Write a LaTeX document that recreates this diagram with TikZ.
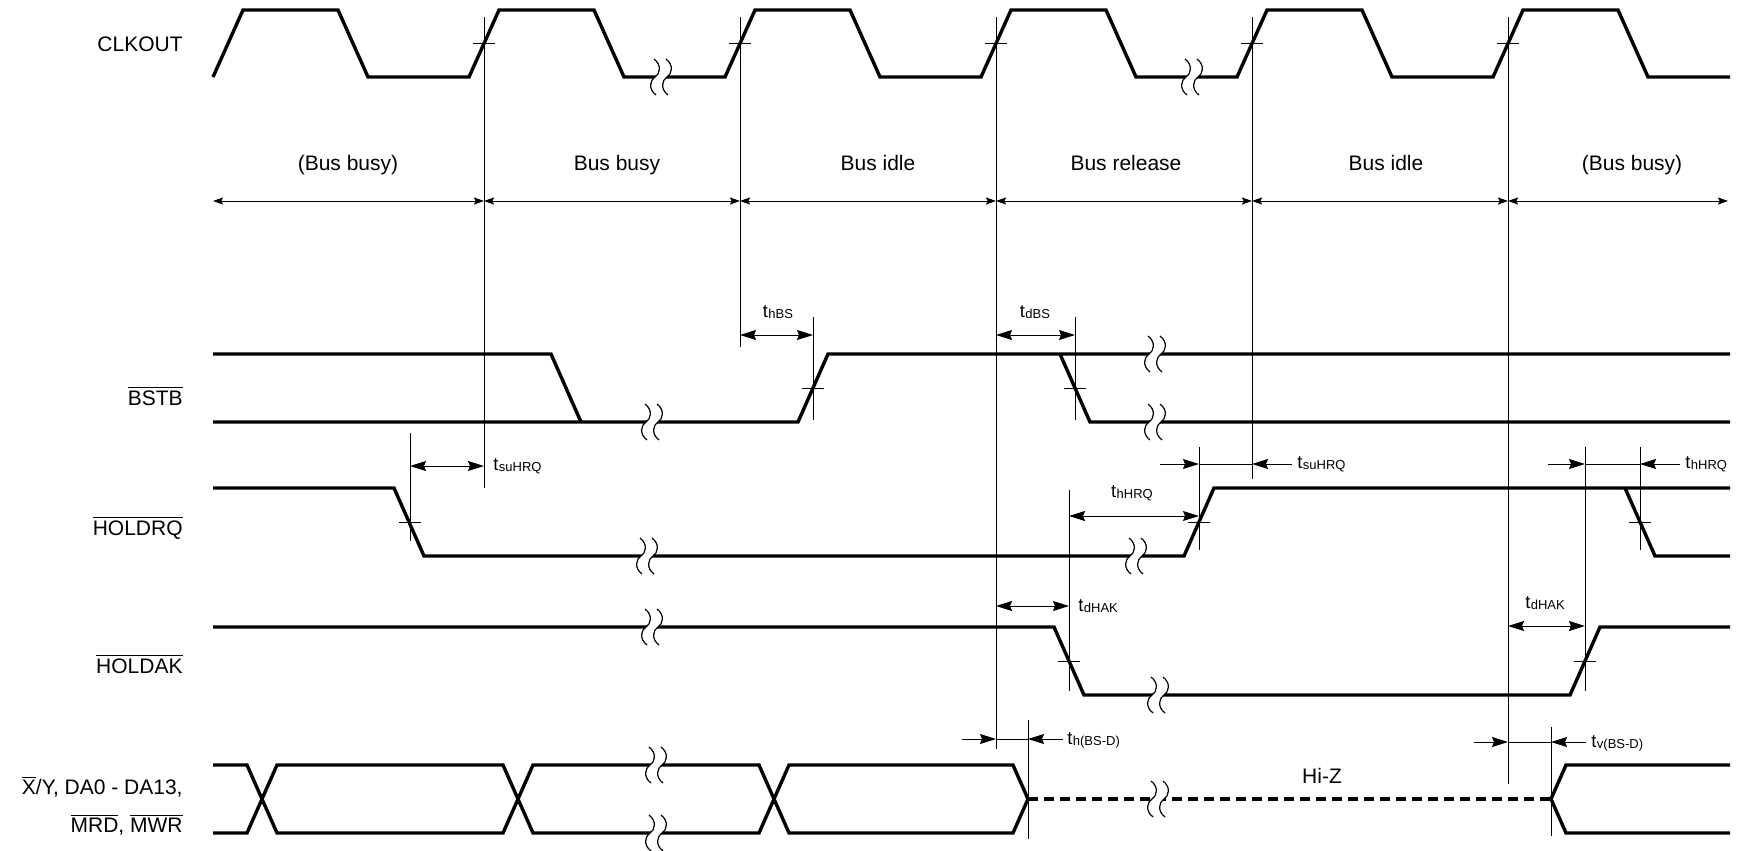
\documentclass[tikz,border=0pt]{standalone}
\usepackage{fontspec}
\setmainfont{Liberation Sans}
\usetikzlibrary{arrows.meta}
\newcommand\tsub[1]{t\kern0.2pt\raisebox{-0.6pt}{\fontsize{6.5}{6.5}\selectfont #1}}
\newcommand\ovl[1]{\ensuremath{\overline{\mbox{#1}}}}
\begin{document}
\begin{tikzpicture}[x=0.5pt,y=-0.5pt,
  sig/.style={line width=1.7pt,line join=miter},
  hz/.style={line width=1.7pt,dash pattern=on 5pt off 3pt},
  refl/.style={line width=0.5pt},
  tickln/.style={line width=0.5pt},
  dim/.style={line width=0.5pt,{Stealth[length=8pt,width=5pt,inset=1pt]}-{Stealth[length=8pt,width=5pt,inset=1pt]}},
  dimin/.style={line width=0.5pt,-{Stealth[length=8pt,width=5pt,inset=1pt]}},
  reg/.style={line width=0.5pt,{Stealth[length=5pt,width=3.5pt,inset=0.8pt]}-{Stealth[length=5pt,width=3.5pt,inset=0.8pt]}},
  lbl/.style={font=\fontsize{10.5}{12}\selectfont,inner sep=0pt},
  tl/.style={font=\fontsize{9.2}{10}\selectfont,inner sep=0pt},
  brk/.pic={
    \fill[white] (-7,-18) .. controls (1,-12) and (-1,-3) .. (-6,0) .. controls (-11,3) and (-13,12) .. (-5,18)
      -- (7,18) .. controls (-1,12) and (1,3) .. (6,0) .. controls (11,-3) and (13,-12) .. (5,-18) -- cycle;
    \foreach \d in {-6,6}
      \draw[line width=0.6pt] (\d-1,-18) .. controls (\d+7,-12) and (\d+5,-3) .. (\d,0)
        .. controls (\d-5,3) and (\d-7,12) .. (\d+1,18);
  }]
\useasboundingbox (0,0) rectangle (1746,851);

% ---- signal names
\node[lbl,anchor=east] (nclk) at (183,44) {CLKOUT};
\node[lbl,anchor=east] (nbstb) at (183,396) {\ovl{BSTB}};
\node[lbl,anchor=east] (nhrq) at (183,528) {\ovl{HOLDRQ}};
\node[lbl,anchor=east] (nhak) at (183,664) {\ovl{HOLDAK}};
\node[lbl,anchor=east] (nd1) at (183,787) {\ovl{X}/Y, DA0 - DA13,};
\node[lbl,anchor=east] (nd2) at (183,825) {\ovl{MRD}, \ovl{MWR}};

% ---- CLKOUT
\draw[sig] (213,77) -- (243,10) -- (338,10) -- (368,77) -- (469,77) -- (499,10) -- (594,10) -- (624,77)
  -- (725,77) -- (755,10) -- (850,10) -- (880,77) -- (981,77) -- (1011,10) -- (1106,10) -- (1136,77)
  -- (1237,77) -- (1267,10) -- (1362,10) -- (1392,77) -- (1493,77) -- (1523,10) -- (1618,10) -- (1648,77) -- (1730,77);

% ---- BSTB
\draw[sig] (213,354) -- (551,354) -- (581,422);
\draw[sig] (213,422) -- (798,422) -- (828,354) -- (1730,354);
\draw[sig] (1060,354) -- (1090,422) -- (1730,422);

% ---- HOLDRQ
\draw[sig] (213,488) -- (394,488) -- (424,556) -- (1184,556) -- (1214,488) -- (1730,488);
\draw[sig] (1625,488) -- (1655,556) -- (1730,556);

% ---- HOLDAK
\draw[sig] (213,627) -- (1054,627) -- (1084,695) -- (1570,695) -- (1600,627) -- (1730,627);

% ---- Data bus
\draw[sig] (213,765) -- (247,765) -- (277,833) -- (503,833) -- (533,765) -- (759,765) -- (789,833) -- (1013,833) -- (1028,799);
\draw[sig] (213,833) -- (247,833) -- (277,765) -- (503,765) -- (533,833) -- (759,833) -- (789,765) -- (1013,765) -- (1028,799);
\draw[hz] (1028,799) -- (1551,799);
\draw[sig] (1551,799) -- (1566,765) -- (1730,765);
\draw[sig] (1551,799) -- (1566,833) -- (1730,833);
\node[lbl] (hiz) at (1322,776) {Hi-Z};

% ---- breaks
\pic at (661,77) {brk};
\pic at (1192,77) {brk};
\pic at (652,422) {brk};
\pic at (1155,354) {brk};
\pic at (1155,422) {brk};
\pic at (647,556) {brk};
\pic at (1136,556) {brk};
\pic at (652,627) {brk};
\pic at (1158,695) {brk};
\pic at (656,765) {brk};
\pic at (656,833) {brk};
\pic at (1158,799) {brk};

% ---- clock reference lines and ticks
\draw[refl] (484,17) -- (484,488);
\draw[refl] (740,17) -- (740,347);
\draw[refl] (996,17) -- (996,749);
\draw[refl] (1252,17) -- (1252,479);
\draw[refl] (1508,17) -- (1508,784);
\foreach \c in {484,740,996,1252,1508} \draw[tickln] (\c-11,43.5) -- (\c+11,43.5);

% ---- other reference lines and ticks
\draw[refl] (813,317) -- (813,420);  \draw[tickln] (802,388) -- (824,388);
\draw[refl] (1075,317) -- (1075,420); \draw[tickln] (1064,388) -- (1086,388);
\draw[refl] (410,433) -- (410,541);  \draw[tickln] (399,522) -- (421,522);
\draw[refl] (1199,447) -- (1199,550); \draw[tickln] (1188,522) -- (1210,522);
\draw[refl] (1640,447) -- (1640,550); \draw[tickln] (1629,522) -- (1651,522);
\draw[refl] (1069,490) -- (1069,691); \draw[tickln] (1058,661) -- (1080,661);
\draw[refl] (1585,447) -- (1585,691); \draw[tickln] (1574,661) -- (1596,661);
\draw[refl] (1028,720) -- (1028,839);
\draw[refl] (1551,727) -- (1551,836);

% ---- bus state row
\coordinate (r0) at (213,201); \coordinate (r1) at (484,201); \coordinate (r2) at (740,201);
\coordinate (r3) at (996,201); \coordinate (r4) at (1252,201); \coordinate (r5) at (1508,201);
\coordinate (r6) at (1728,201);
\draw[reg] (r0) -- (r1); \draw[reg] (r1) -- (r2); \draw[reg] (r2) -- (r3);
\draw[reg] (r3) -- (r4); \draw[reg] (r4) -- (r5); \draw[reg] (r5) -- (r6);
\node[lbl,anchor=base] (s1) at (348,170) {(Bus busy)};
\node[lbl,anchor=base] (s2) at (617,170) {Bus busy};
\node[lbl,anchor=base] (s3) at (878,170) {Bus idle};
\node[lbl,anchor=base] (s4) at (1126,170) {Bus release};
\node[lbl,anchor=base] (s5) at (1386,170) {Bus idle};
\node[lbl,anchor=base] (s6) at (1632,170) {(Bus busy)};

% ---- timing parameters
\coordinate (su1a) at (410,466); \coordinate (su1b) at (484,466);
\draw[dim] (su1a) -- (su1b);
\node[tl,anchor=west] (su1) at (493,466) {\tsub{suHRQ}};

\coordinate (hbsa) at (740,335); \coordinate (hbsb) at (813,335);
\draw[dim] (hbsa) -- (hbsb);
\node[tl] (hbs) at (778,312) {\tsub{hBS}};

\coordinate (dbsa) at (996,335); \coordinate (dbsb) at (1075,335);
\draw[dim] (dbsa) -- (dbsb);
\node[tl] (dbs) at (1035,312) {\tsub{dBS}};

\coordinate (su2o) at (1160,464); \coordinate (su2a) at (1199,464);
\coordinate (su2b) at (1252,464); \coordinate (su2p) at (1292,464);
\draw[dimin] (su2o) -- (su2a); \draw[refl] (su2a) -- (su2b); \draw[dimin] (su2p) -- (su2b);
\node[tl,anchor=west] (su2) at (1297,464) {\tsub{suHRQ}};

\coordinate (hh1a) at (1069,516); \coordinate (hh1b) at (1199,516);
\draw[dim] (hh1a) -- (hh1b);
\node[tl] (hh1) at (1132,493) {\tsub{hHRQ}};

\coordinate (hh2o) at (1548,464); \coordinate (hh2a) at (1585,464);
\coordinate (hh2b) at (1640,464); \coordinate (hh2p) at (1680,464);
\draw[dimin] (hh2o) -- (hh2a); \draw[refl] (hh2a) -- (hh2b); \draw[dimin] (hh2p) -- (hh2b);
\node[tl,anchor=west] (hh2) at (1685,464) {\tsub{hHRQ}};

\coordinate (dh1a) at (996,606); \coordinate (dh1b) at (1069,606);
\draw[dim] (dh1a) -- (dh1b);
\node[tl,anchor=west] (dh1) at (1078,606) {\tsub{dHAK}};

\coordinate (dh2a) at (1508,626); \coordinate (dh2b) at (1585,626);
\draw[dim] (dh2a) -- (dh2b);
\node[tl] (dh2) at (1545,603) {\tsub{dHAK}};

\coordinate (hbdo) at (962,739); \coordinate (hbda) at (996,739);
\coordinate (hbdb) at (1028,739); \coordinate (hbdp) at (1063,739);
\draw[dimin] (hbdo) -- (hbda); \draw[refl] (hbda) -- (hbdb); \draw[dimin] (hbdp) -- (hbdb);
\node[tl,anchor=west] (hbd) at (1067,740) {\tsub{h(BS-D)}};

\coordinate (vbdo) at (1474,742); \coordinate (vbda) at (1508,742);
\coordinate (vbdb) at (1551,742); \coordinate (vbdp) at (1586,742);
\draw[dimin] (vbdo) -- (vbda); \draw[refl] (vbda) -- (vbdb); \draw[dimin] (vbdp) -- (vbdb);
\node[tl,anchor=west] (vbd) at (1591,743) {\tsub{v(BS-D)}};
\end{tikzpicture}
\end{document}
